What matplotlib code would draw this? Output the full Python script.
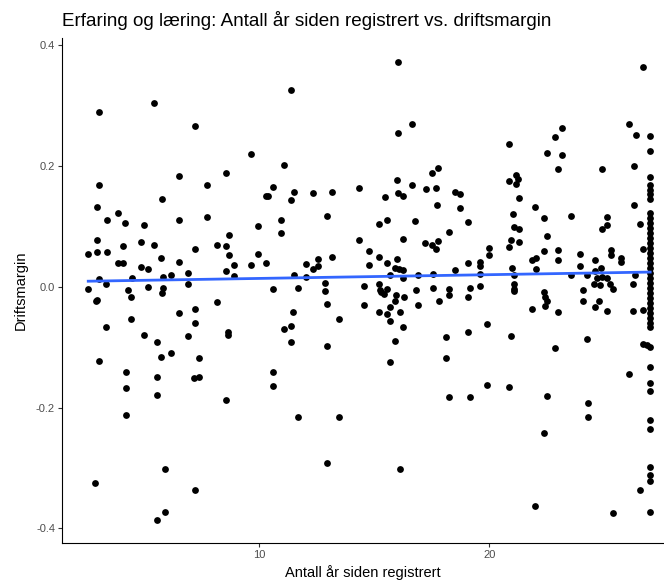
import numpy as np
import matplotlib
matplotlib.use("Agg")
import matplotlib.pyplot as plt

plt.rcParams['font.family'] = ['Liberation Sans', 'DejaVu Sans']

# Antall år siden registrert / driftsmargin, grouped by age band
years_a = [3.05, 5.40, 3.05, 5.77, 2.94, 3.84, 3.39, 4.18, 4.98, 2.94,
           4.85, 4.09, 5.40, 2.57, 2.94, 3.39, 5.74, 3.84, 4.09, 4.85,
           5.14, 5.80, 3.03, 4.47, 3.35, 2.56, 4.28, 5.14, 5.80, 4.44,
           5.77, 2.88, 2.94, 4.44, 3.35, 4.98, 5.57, 3.01, 5.74, 4.19,
           5.57, 4.19, 5.57, 4.19, 5.89, 2.85, 5.89, 5.57]
margin_a = [0.290, 0.304, 0.169, 0.145, 0.133, 0.123, 0.111, 0.105, 0.102, 0.077,
            0.074, 0.067, 0.070, 0.054, 0.057, 0.057, 0.047, 0.039, 0.039, 0.033,
            0.029, 0.017, 0.013, 0.014, 0.004, -0.003, -0.005, 0.000, -0.002, -0.016,
            -0.010, -0.023, -0.021, -0.054, -0.067, -0.080, -0.091, -0.123, -0.116, -0.141,
            -0.150, -0.167, -0.179, -0.212, -0.301, -0.325, -0.373, -0.386]

years_b = [7.19, 9.62, 6.50, 8.57, 7.72, 6.50, 7.72, 10.31, 9.93, 8.70,
           7.19, 8.15, 8.54, 8.70, 9.93, 6.50, 8.54, 8.91, 9.62, 10.31,
           6.91, 6.91, 6.18, 8.91, 8.16, 6.49, 7.19, 7.19, 6.89, 8.66,
           8.66, 6.18, 7.37, 7.17, 7.37, 8.57, 7.19]
margin_b = [0.267, 0.220, 0.183, 0.189, 0.169, 0.110, 0.116, 0.150, 0.101, 0.086,
            0.063, 0.070, 0.068, 0.053, 0.055, 0.041, 0.027, 0.037, 0.036, 0.039,
            0.023, 0.004, 0.019, 0.018, -0.025, -0.044, -0.036, -0.060, -0.082, -0.074,
            -0.080, -0.110, -0.118, -0.151, -0.150, -0.188, -0.336]

years_c = [11.36, 11.06, 10.58, 10.39, 11.53, 11.36, 12.32, 13.16, 14.33, 10.93,
           10.93, 12.93, 14.33, 12.03, 12.55, 12.54, 12.32, 13.16, 11.49, 12.03,
           10.58, 11.69, 12.84, 12.84, 14.54, 12.93, 14.54, 11.46, 13.47, 11.06,
           11.39, 11.39, 12.93, 10.58, 10.58, 11.69, 13.47, 12.93]
margin_c = [0.326, 0.201, 0.166, 0.151, 0.157, 0.144, 0.156, 0.157, 0.164, 0.111,
            0.089, 0.118, 0.077, 0.038, 0.046, 0.035, 0.029, 0.050, 0.020, 0.017,
            -0.004, -0.002, 0.007, -0.007, 0.002, -0.029, -0.030, -0.042, -0.053, -0.069,
            -0.065, -0.092, -0.098, -0.141, -0.164, -0.216, -0.216, -0.292]

years_d = [16.04, 16.64, 16.04, 17.79, 17.50, 16.00, 16.64, 17.23, 17.70, 15.46,
           16.04, 16.23, 18.49, 18.74, 17.72, 18.74, 15.21, 15.56, 16.78, 18.23,
           16.23, 17.22, 17.50, 17.75, 17.67, 14.77, 15.19, 14.77, 15.56, 16.00,
           15.92, 16.07, 16.23, 18.49, 15.70, 16.26, 16.88, 17.56, 15.19, 15.26,
           15.56, 16.80, 17.56, 18.23, 15.31, 15.43, 15.94, 16.30, 18.26, 15.19,
           15.56, 15.69, 15.92, 16.11, 15.70, 16.88, 17.80, 16.23, 15.92, 18.14,
           15.70, 18.14, 18.26, 16.11]
margin_d = [0.372, 0.269, 0.254, 0.197, 0.189, 0.177, 0.168, 0.162, 0.163, 0.149,
            0.155, 0.151, 0.157, 0.154, 0.135, 0.131, 0.104, 0.110, 0.109, 0.091,
            0.080, 0.073, 0.070, 0.076, 0.063, 0.059, 0.050, 0.037, 0.040, 0.046,
            0.031, 0.029, 0.028, 0.028, 0.020, 0.014, 0.019, 0.022, 0.005, -0.005,
            -0.003, -0.006, -0.002, -0.004, -0.008, -0.012, -0.014, -0.016, -0.013, -0.042,
            -0.045, -0.034, -0.023, -0.041, -0.056, -0.030, -0.024, -0.066, -0.089, -0.083,
            -0.125, -0.118, -0.182, -0.301]

years_e = [23.16, 22.87, 22.49, 23.16, 22.98, 20.87, 20.88, 21.17, 21.23, 21.17,
           21.29, 19.09, 21.99, 21.02, 22.40, 21.06, 21.29, 22.49, 20.94, 20.87,
           21.29, 19.98, 19.98, 22.40, 22.98, 22.98, 19.09, 19.60, 19.60, 19.60,
           21.87, 22.05, 22.05, 21.00, 21.06, 19.15, 19.60, 21.06, 21.06, 21.06,
           22.40, 19.06, 22.44, 22.52, 22.44, 21.87, 22.98, 19.06, 19.90, 20.93,
           22.87, 19.90, 20.85, 19.15, 22.49, 22.37, 21.98]
margin_e = [0.263, 0.248, 0.222, 0.219, 0.195, 0.236, 0.175, 0.186, 0.178, 0.171,
            0.147, 0.108, 0.133, 0.121, 0.114, 0.099, 0.095, 0.084, 0.077, 0.066,
            0.075, 0.065, 0.053, 0.060, 0.061, 0.044, 0.040, 0.041, 0.035, 0.021,
            0.044, 0.047, 0.030, 0.031, 0.019, -0.002, 0.002, 0.004, -0.003, -0.007,
            -0.008, -0.017, -0.016, -0.023, -0.031, -0.037, -0.041, -0.075, -0.061, -0.081,
            -0.102, -0.162, -0.166, -0.183, -0.180, -0.242, -0.362]

years_f = [26.69, 26.09, 26.37, 24.91, 26.31, 26.31, 23.55, 25.11, 25.11, 24.89,
           26.54, 26.69, 23.95, 23.95, 23.55, 24.27, 24.60, 24.60, 24.87, 25.30,
           25.30, 25.74, 25.74, 24.69, 24.91, 25.13, 24.06, 24.54, 24.82, 25.27,
           25.39, 26.35, 26.25, 24.06, 24.79, 24.60, 25.11, 26.25, 26.69, 24.25,
           26.69, 26.84, 26.09, 24.30, 24.30, 26.54, 25.37]
margin_f = [0.364, 0.270, 0.251, 0.195, 0.200, 0.136, 0.117, 0.115, 0.103, 0.095,
            0.104, 0.062, 0.054, 0.035, 0.019, 0.020, 0.044, 0.027, 0.031, 0.061,
            0.053, 0.048, 0.041, 0.015, 0.016, 0.015, -0.005, 0.004, 0.003, 0.005,
            -0.003, 0.020, 0.004, -0.023, -0.023, -0.034, -0.040, -0.040, -0.039, -0.087,
            -0.095, -0.096, -0.145, -0.192, -0.216, -0.336, -0.374]

# firms registered 27 years ago or more all sit at 27
margin_27 = [0.249, 0.225, 0.182, 0.169, 0.161, 0.153, 0.145, 0.123, 0.114, 0.106,
             0.098, 0.089, 0.081, 0.073, 0.065, 0.056, 0.048, 0.040, 0.031, 0.023,
             0.015, 0.007, -0.002, -0.010, -0.018, -0.027, -0.035, -0.043, -0.051, -0.060,
             -0.066, -0.099, -0.132, -0.159, -0.172, -0.221, -0.236, -0.299, -0.311, -0.322,
             -0.372]
years_27 = [27.0] * len(margin_27)

x = np.concatenate([years_a, years_b, years_c, years_d, years_e, years_f, years_27])
y = np.concatenate([margin_a, margin_b, margin_c, margin_d, margin_e, margin_f, margin_27])

fig = plt.figure(figsize=(6.64, 5.80), dpi=100)
ax = fig.add_axes([0.0934, 0.0638, 0.9066, 0.8707])

ax.scatter(x, y, s=24, color='black', linewidths=0, zorder=2)

# linear fit, like geom_smooth(method = "lm", se = FALSE)
slope, intercept = np.polyfit(x, y, 1)
xs = np.array([x.min(), x.max()])
ax.plot(xs, slope * xs + intercept, color='#3366FF', linewidth=2, zorder=3)

ax.set_xlim(1.42, 27.6)
ax.set_ylim(-0.424, 0.412)
ax.set_xticks([10, 20])
ax.set_yticks([-0.4, -0.2, 0.0, 0.2, 0.4])
ax.set_yticklabels(['-0.4', '-0.2', '0.0', '0.2', '0.4'])

for side in ['top', 'right']:
    ax.spines[side].set_visible(False)
for side in ['left', 'bottom']:
    ax.spines[side].set_linewidth(0.8)
    ax.spines[side].set_color('black')
ax.tick_params(axis='both', length=3, width=0.8, color='#333333',
               labelsize=8, labelcolor='#4D4D4D', pad=2)

ax.set_xlabel('Antall år siden registrert', fontsize=10.5, labelpad=4)
ax.set_ylabel('Driftsmargin', fontsize=10.5, labelpad=6)
fig.text(0.0934, 0.965, 'Erfaring og læring: Antall år siden registrert vs. driftsmargin',
         fontsize=13.6, ha='left', va='center')

fig.savefig('out.png', dpi=100)
